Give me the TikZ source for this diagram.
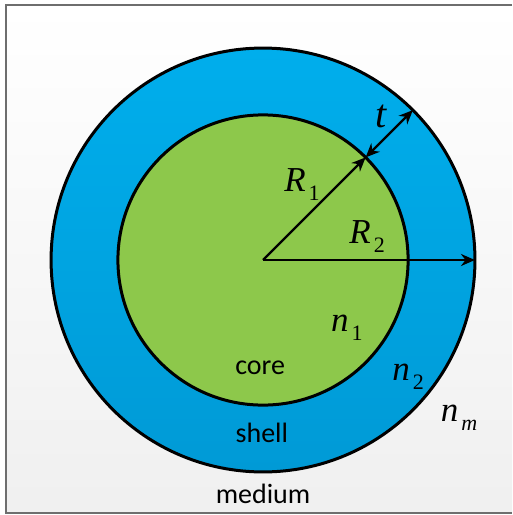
\documentclass[tikz,border=0pt]{standalone}
\usepackage{fontspec}
\setmainfont{Carlito}
\newfontfamily\symfont{Liberation Serif}
\usetikzlibrary{arrows.meta}
\definecolor{coregreen}{HTML}{8DC84B}
\definecolor{shelltop}{HTML}{00AEEC}
\definecolor{shellbot}{HTML}{009AD6}
\definecolor{framegray}{HTML}{6E6E6E}
\newcommand{\symlbl}[2]{{\symfont\fontsize{35}{38}\selectfont\itshape #1}\kern3pt\raisebox{-9pt}{\symfont\fontsize{22}{24}\selectfont #2}}

\begin{document}
\begin{tikzpicture}[>={Stealth[length=14pt,width=12pt]}, line width=2.4pt,
  ball/.style={circle, draw, line width=3pt, inner sep=0pt, outer sep=0pt},
  word/.style={font=\fontsize{28}{30}\selectfont},
  sym/.style={inner sep=0pt}]
\useasboundingbox (-9.245,-8.963) rectangle (8.752,9.139);
% background and frame
\shade[top color=white, bottom color=black!6] (-9.033,-8.893) rectangle (8.752,8.963);
\draw[framegray, line width=1.2pt] (8.752,8.963) -- (-9.033,8.963) -- (-9.033,-8.893) -- (8.752,-8.893);
% shell and core
\node[ball, minimum size=14.9cm, top color=shelltop, bottom color=shellbot] (shell) at (0,0) {};
\node[ball, minimum size=10.2cm, fill=coregreen] (core) at (0,0) {};
\coordinate (O) at (0,0);
% radii and thickness
\draw[->] (O) -- (core.45);
\draw[<->] (core.45) -- (shell.45);
\draw[->] (O) -- (shell.0);
% labels
\node[sym] (t) at (4.15,5.05) {{\symfont\fontsize{40}{42}\selectfont\itshape t}};
\node[sym] (R1) at (1.37,2.64) {\symlbl{R}{1}};
\node[sym] (R2) at (3.66,0.81) {\symlbl{R}{2}};
\node[sym] (n1) at (2.95,-2.39) {\symlbl{n}{1}};
\node[sym] (n2) at (5.10,-4.11) {\symlbl{n}{2}};
\node[sym] (nm) at (6.89,-5.55) {\symlbl{n}{\itshape m}};
\node[word] (corelbl) at (-0.1,-3.80) {core};
\node[word] (shelllbl) at (-0.04,-6.08) {shell};
\node[word] (mediumlbl) at (0,-8.22) {medium};
\end{tikzpicture}
\end{document}
